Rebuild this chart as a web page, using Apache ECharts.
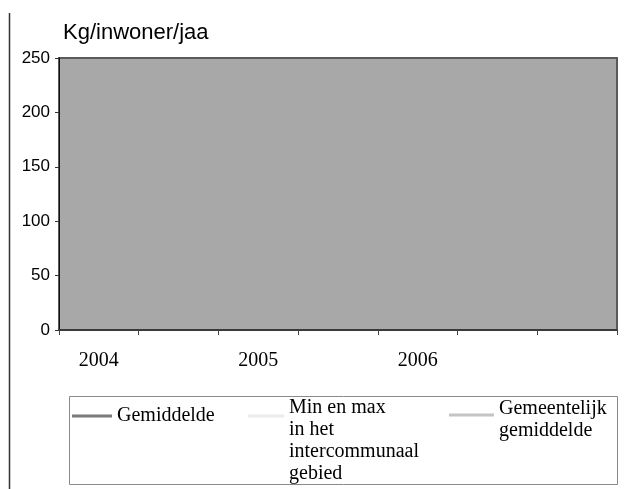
<!DOCTYPE html>
<html>
<head>
<meta charset="utf-8">
<script src="https://cdn.jsdelivr.net/npm/echarts@6/dist/echarts.min.js"></script>
<style>
html,body{margin:0;padding:0;background:#fff;}
#chart{width:625px;height:489px;}
</style>
</head>
<body>
<div id="chart"></div>
<script>
// Data (the reference shows no plotted values)
var categories = ['2004', '', '2005', '', '2006', '', ''];
var yTicks = [0, 50, 100, 150, 200, 250];
var gemiddelde = [null, null, null, null, null, null, null];
var minMax = [null, null, null, null, null, null, null];
var gemeentelijk = [null, null, null, null, null, null, null];
var seriesNames = ['Gemiddelde', 'Min en max\nin het\nintercommunaal\ngebied', 'Gemeentelijk\ngemiddelde'];
var seriesColors = ['#7a7a7a', '#ececec', '#c4c4c4'];

var chart = echarts.init(document.getElementById('chart'));
var legendFont = {color: '#000', fontFamily: 'Liberation Serif', fontSize: 20, lineHeight: 22};
function shifted(pad) {
  return {
    formatter: function (name) {
      return '{p|\u200b}\n' + name.split('\n').map(function (l) { return '{t|' + l + '}'; }).join('\n');
    },
    textStyle: Object.assign({
      rich: {
        p: {lineHeight: pad, fontSize: 1},
        t: {color: '#000', fontFamily: 'Liberation Serif', fontSize: 20, lineHeight: 22}
      }
    }, legendFont)
  };
}
var option = {
  animation: false,
  title: {
    text: 'Kg/inwoner/jaa', left: 63, top: 22, padding: 0,
    textStyle: {color: '#000', fontFamily: 'Liberation Sans', fontSize: 22, fontWeight: 'normal'}
  },
  grid: {
    left: 59, right: 8, top: 58, bottom: 159,
    show: true, backgroundColor: '#a8a8a8', borderColor: '#5a5a5a', borderWidth: 2
  },
  xAxis: {
    type: 'category', data: categories, boundaryGap: true,
    axisLine: {lineStyle: {color: '#3a3a3a', width: 2}},
    axisTick: {show: true, interval: 0, length: 5, lineStyle: {color: '#444'}},
    axisLabel: {interval: 0, margin: 21, color: '#000', fontFamily: 'Liberation Serif', fontSize: 20}
  },
  yAxis: {
    type: 'value', min: yTicks[0], max: yTicks[yTicks.length - 1], interval: yTicks[1] - yTicks[0],
    splitLine: {show: false},
    axisLine: {show: true, lineStyle: {color: '#111', width: 1}},
    axisTick: {show: true, length: 4, lineStyle: {color: '#333'}},
    axisLabel: {margin: 9, color: '#000', fontFamily: 'Liberation Sans', fontSize: 17}
  },
  legend: [
    Object.assign({data: [seriesNames[0]], left: 72, top: 405, padding: 0, icon: 'rect', itemWidth: 40, itemHeight: 3, textStyle: legendFont}),
    Object.assign({data: [seriesNames[1]], left: 248, padding: 0, icon: 'rect', itemWidth: 36, itemHeight: 3}, shifted(50), {top: 347}),
    Object.assign({data: [seriesNames[2]], left: 449, padding: 0, icon: 'rect', itemWidth: 45, itemHeight: 3}, shifted(10), {top: 388})
  ],
  graphic: [
    {type: 'line', shape: {x1: 9.5, y1: 13, x2: 9.5, y2: 489}, style: {stroke: '#333', lineWidth: 1.5}},
    {type: 'rect', shape: {x: 69.5, y: 396.5, width: 548, height: 88}, style: {fill: 'none', stroke: '#8a8a8a', lineWidth: 1}, z: -1}
  ],
  series: [
    {name: seriesNames[0], type: 'line', data: gemiddelde, showSymbol: false,
      itemStyle: {color: seriesColors[0]}, lineStyle: {color: seriesColors[0], width: 3}},
    {name: seriesNames[1], type: 'line', data: minMax, showSymbol: false,
      itemStyle: {color: seriesColors[1]}, lineStyle: {color: seriesColors[1], width: 3}},
    {name: seriesNames[2], type: 'line', data: gemeentelijk, showSymbol: false,
      itemStyle: {color: seriesColors[2]}, lineStyle: {color: seriesColors[2], width: 3}}
  ]
};
chart.setOption(option);
</script>
</body>
</html>
